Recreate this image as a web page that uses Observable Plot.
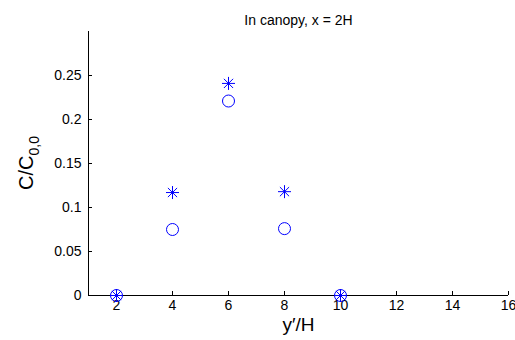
<!DOCTYPE html>
<html><head><meta charset="utf-8">
<script src="https://cdn.jsdelivr.net/npm/d3@7"></script>
<script src="https://cdn.jsdelivr.net/npm/@observablehq/plot@0.6"></script>
<style>body{margin:0;background:#fff}</style>
</head><body><div id="chart"></div>
<script>
const title = "In canopy, x = 2H";
const xLabel = "y\u2032/H";
const yLabelMain = "C/C";
const yLabelSub = "0,0";
const positions = [2, 4, 6, 8, 10];
const circleValues = [0, 0.075, 0.221, 0.076, 0];
const starValues = [0, 0.117, 0.241, 0.118, 0];
const xTicks = [2, 4, 6, 8, 10, 12, 14, 16];
const yTicks = [0, 0.05, 0.1, 0.15, 0.2, 0.25];
const yTickLabels = ["0", "0.05", "0.1", "0.15", "0.2", "0.25"];

const circles = positions.map((x, i) => ({x, y: circleValues[i]}));
const stars = positions.map((x, i) => ({x, y: starValues[i]}));

const asterisk8 = {
  draw(context, size) {
    const r = Math.sqrt(size / Math.PI);
    for (let k = 0; k < 4; k++) {
      const a = k * Math.PI / 4;
      const dx = r * Math.cos(a), dy = r * Math.sin(a);
      context.moveTo(-dx, -dy);
      context.lineTo(dx, dy);
    }
  }
};

const blue = "#0000ff";
const font = "'Liberation Sans', Arial, sans-serif";
const plot = Plot.plot({
  width: 515,
  height: 340,
  marginLeft: 88,
  marginRight: 7,
  marginTop: 31,
  marginBottom: 45,
  style: {fontFamily: font, fontSize: "14px", color: "#000", background: "#fff"},
  x: {domain: [1, 16]},
  y: {domain: [0, 0.3]},
  marks: [
    Plot.ruleY([0], {stroke: "#000"}),
    Plot.ruleX([1], {stroke: "#000"}),
    Plot.axisX({ticks: xTicks, tickSize: -4, tickPadding: 9, label: null, stroke: "#000", fontSize: 14}),
    Plot.axisY({ticks: yTicks, tickSize: -4, tickPadding: 11, label: null, tickFormat: (d) => yTickLabels[yTicks.indexOf(d)], stroke: "#000", fontSize: 14}),
    Plot.dot(circles, {x: "x", y: "y", r: 6, stroke: blue, strokeWidth: 1, fill: "none"}),
    Plot.dot(stars, {x: "x", y: "y", r: 6.5, symbol: asterisk8, stroke: blue, strokeWidth: 1}),
    Plot.text([title], {frameAnchor: "top", dy: -16, fontSize: 14, fill: "#000"}),
    Plot.text([xLabel], {frameAnchor: "bottom", dy: 35, fontSize: 19, fill: "#000"})
  ]
});
document.getElementById("chart").appendChild(plot);

// y-axis label with subscript
const svg = d3.select(plot);
const cy = 31 + (340 - 31 - 45) / 2;
const t = svg.append("text")
  .attr("transform", `translate(33,${cy}) rotate(-90)`)
  .attr("text-anchor", "middle")
  .attr("font-family", font)
  .attr("font-size", 20)
  .attr("fill", "#000");
t.append("tspan").text(yLabelMain);
t.append("tspan").attr("font-size", 14).attr("dy", 6).text(yLabelSub);
</script>
</body></html>
